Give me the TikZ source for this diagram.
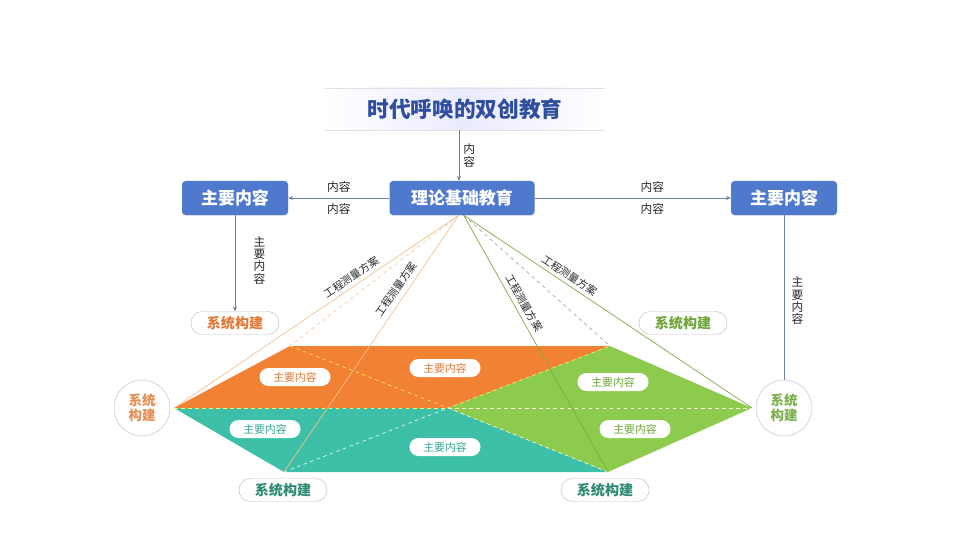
\documentclass[tikz,border=0pt]{standalone}
\usepackage{fontspec}
\setmainfont{Noto Sans CJK SC}
\usetikzlibrary{arrows.meta,positioning,shadows}
\definecolor{boxblue}{HTML}{4F79CD}
\definecolor{titleblue}{HTML}{2F4F9E}
\definecolor{arrowgrey}{HTML}{6F7F9F}
\definecolor{orangefill}{HTML}{F28233}
\definecolor{tealfill}{HTML}{3DBFA8}
\definecolor{greenfill}{HTML}{8DCB4F}
\definecolor{orangetxt}{HTML}{E07A36}
\definecolor{tealtxt}{HTML}{34A994}
\definecolor{greentxt}{HTML}{6FA63A}
\definecolor{darkteal}{HTML}{2E8A74}
\definecolor{orangeline}{HTML}{F3C08E}
\definecolor{greenline}{HTML}{7FA845}

\begin{document}
\begin{tikzpicture}[
        x=0.03cm,
        y=-0.03cm,
        lab/.style={font=\fontsize{10}{10.5}\selectfont, text=black!85},
        vlab/.style={lab, align=center, inner sep=0pt},
        linelab/.style={font=\fontsize{9}{10}\selectfont, text=black!85, sloped, inner sep=1pt},
        titleband/.style={
            minimum width=8.4cm,
            minimum height=1.26cm,
            left color=white,
            right color=white,
            middle color=blue!8,
            text=titleblue,
            font=\fontsize{18.5}{20}\selectfont\bfseries
        },
        mainbox/.style={
            fill=boxblue,
            rounded corners=3pt,
            text=white,
            minimum height=1.02cm,
            drop shadow={opacity=0.15, shadow xshift=0.4pt, shadow yshift=-1pt},
            font=\fontsize{14.5}{16}\selectfont\bfseries
        },
        pill/.style={
            draw=black!25,
            fill=white,
            rounded corners=3.4mm,
            minimum width=2.64cm,
            minimum height=0.69cm,
            font=\fontsize{12}{13}\selectfont\bfseries
        },
        innerpill/.style={
            fill=white,
            rounded corners=2.7mm,
            minimum width=2.13cm,
            minimum height=0.54cm,
            font=\fontsize{9.2}{10}\selectfont
        },
        sysround/.style={
            circle,
            draw=black!25,
            fill=white,
            minimum size=1.68cm,
            inner sep=0pt,
            align=center,
            font=\fontsize{11.5}{13}\selectfont\bfseries
        },
        link/.style={arrowgrey, line width=0.6pt},
        tip/.style={link, -{Stealth[length=4pt,width=3.5pt]}}
    ]
        \useasboundingbox (0,0) rectangle (960,540);

        % Title band and the three blue boxes
        \node[titleband] (title) at (465,109) {时代呼唤的双创教育};
        \draw[black!12] (title.north west) -- (title.north east);
        \draw[black!12] (title.south west) -- (title.south east);

        \node[mainbox, minimum width=4.35cm] (theory) at (462,198) {理论基础教育};
        \node[mainbox, minimum width=3.18cm] (leftbox) at (235,198) {主要内容};
        \node[mainbox, minimum width=3.18cm] (rightbox) at (784,198) {主要内容};

        \draw[tip] ([xshift=-0.09cm]theory.north |- title.south) -- ([xshift=-0.09cm]theory.north)
            node[vlab, midway, right=0.12cm] {内\\容};
        \draw[tip] (theory.west) -- (leftbox.east)
            node[lab, midway, above=1pt] {内容}
            node[lab, midway, below=1pt] {内容};
        \draw[tip] (theory.east) -- (rightbox.west)
            node[lab, pos=0.6, above=1pt] {内容}
            node[lab, pos=0.6, below=1pt] {内容};

        % Pills and circles round the pyramid
        \node[pill, text=orangetxt] (sysleft) at (235,323) {系统构建};
        \node[pill, text=greentxt] (sysright) at (683,323) {系统构建};
        \node[pill, text=darkteal] (sysbotleft) at (283,490) {系统构建};
        \node[pill, text=darkteal] (sysbotright) at (605,490) {系统构建};
        \node[sysround, text=orangetxt!85] (roundleft) at (142,408) {系统\\构建};
        \node[sysround, text=greentxt!90] (roundright) at (784,408) {系统\\构建};

        \draw[tip] (leftbox.south) -- (sysleft.north)
            node[vlab, pos=0.47, right=0.55cm] {主\\要\\内\\容};
        \draw[link] (rightbox.south) -- (roundright.north)
            node[vlab, pos=0.52, right=0.22cm] {主\\要\\内\\容};

        % Pyramid base: corners and the centre where the diagonals cross
        \coordinate (L) at (174,408);
        \coordinate (T1) at (290,346);
        \coordinate (T2) at (610,346);
        \coordinate (R) at (752,408);
        \coordinate (B1) at (284,472);
        \coordinate (B2) at (608,472);
        \coordinate (C) at (448,408);

        \fill[orangefill] (L) -- (T1) -- (T2) -- (C) -- cycle;
        \fill[tealfill] (L) -- (C) -- (B2) -- (B1) -- cycle;
        \fill[greenfill] (C) -- (T2) -- (R) -- (B2) -- cycle;

        \draw[yellow!60, dashed, line width=0.5pt] (L) -- (C);
        \draw[white!85!yellow, dashed, line width=0.5pt] (C) -- (R);
        \draw[yellow!60, dashed, line width=0.5pt] (T1) -- (C) -- (T2);
        \draw[white, dashed, line width=0.5pt] (B1) -- (C) -- (B2);

        \foreach \name/\x/\y/\col in {
            op1/295/377/orangetxt, op2/445/368/orangetxt,
            tp1/265/429/tealtxt, tp2/445/447/tealtxt,
            gp1/613/382/greentxt, gp2/635/429/greentxt}
            \node[innerpill, text=\col] (\name) at (\x,\y) {主要内容};

        % Lines from the theory box down to the base
        \coordinate (apexl) at ([xshift=-0.1cm]theory.south);
        \coordinate (apexr) at ([xshift=0.05cm]theory.south);

        \draw[orangeline, line width=0.6pt] (apexl) -- (L)
            node[linelab, pos=0.36, above=2pt] {工程测量方案};
        \draw[orangeline, dashed, line width=0.5pt] (apexl) -- (T1);
        \draw[orangeline, line width=0.6pt] (apexl) -- (B1)
            node[linelab, pos=0.31, above=3pt] {工程测量方案};

        \draw[greenline, line width=0.6pt] (apexr) -- (R)
            node[linelab, pos=0.35, above=2pt] {工程测量方案};
        \draw[black!40, dashed, line width=0.5pt] (apexr) -- (T2);
        \draw[greenline, line width=0.6pt] (apexr) -- (B2)
            node[linelab, pos=0.36, above=3pt] {工程测量方案};
    \end{tikzpicture}
\end{document}
